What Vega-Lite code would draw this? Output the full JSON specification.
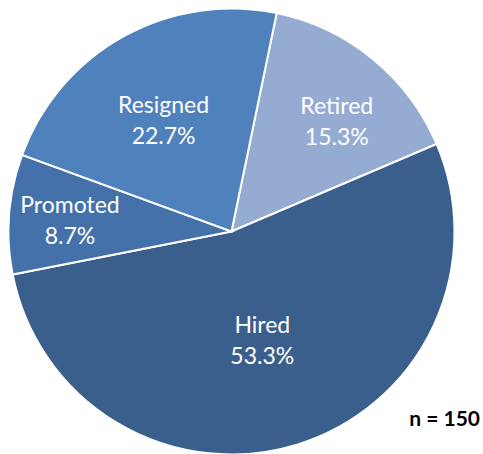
{
  "$schema": "https://vega.github.io/schema/vega-lite/v6.json",
  "autosize": "none",
  "width": 463,
  "height": 445,
  "padding": {"left": 0, "top": 9, "right": 20, "bottom": 0},
  "background": "white",
  "config": {"view": {"stroke": null}, "font": "Lato"},
  "layer": [
    {
      "data": {"name": "pie", "values": [
        {"idx": 1, "category": "Retired", "count": 23, "share": 0.153},
        {"idx": 2, "category": "Hired", "count": 80, "share": 0.533},
        {"idx": 3, "category": "Promoted", "count": 13, "share": 0.087},
        {"idx": 4, "category": "Resigned", "count": 34, "share": 0.227}
      ]},
      "layer": [
        {
          "mark": {"type": "arc", "outerRadius": 223, "stroke": "white", "strokeWidth": 2},
          "encoding": {
            "theta": {"field": "count", "type": "quantitative", "stack": true, "scale": {"range": [0.204, 6.4872]}},
            "order": {"field": "idx", "type": "quantitative"},
            "color": {"field": "category", "type": "nominal", "legend": null,
              "scale": {"domain": ["Retired", "Hired", "Promoted", "Resigned"], "range": ["#95abd2", "#3b5f8d", "#4571ab", "#4f81bd"]}}
          }
        },
        {
          "mark": {"type": "text", "fontSize": 23, "color": "white", "baseline": "middle", "align": "center", "dy": -13,
            "thetaOffset": {"expr": "datum.category === 'Retired' ? 0.073 : datum.category === 'Resigned' ? -0.037 : datum.category === 'Hired' ? 0.02 : 0"},
            "radius": {"expr": "datum.category === 'Retired' ? 153 : datum.category === 'Hired' ? 112 : datum.category === 'Promoted' ? 162 : 131"}},
          "encoding": {
            "theta": {"field": "count", "type": "quantitative", "stack": true, "scale": {"range": [0.204, 6.4872]}},
            "order": {"field": "idx", "type": "quantitative"},
            "text": {"field": "category", "type": "nominal"}
          }
        },
        {
          "mark": {"type": "text", "fontSize": 23, "color": "white", "baseline": "middle", "align": "center", "dy": 18,
            "thetaOffset": {"expr": "datum.category === 'Retired' ? 0.073 : datum.category === 'Resigned' ? -0.037 : datum.category === 'Hired' ? 0.02 : 0"},
            "radius": {"expr": "datum.category === 'Retired' ? 153 : datum.category === 'Hired' ? 112 : datum.category === 'Promoted' ? 162 : 131"}},
          "encoding": {
            "theta": {"field": "count", "type": "quantitative", "stack": true, "scale": {"range": [0.204, 6.4872]}},
            "order": {"field": "idx", "type": "quantitative"},
            "text": {"field": "share", "type": "quantitative", "format": ".1%"}
          }
        }
      ]
    },
    {
      "data": {"values": [{"note": "n = 150"}]},
      "mark": {"type": "text", "fontSize": 21, "fontWeight": "bold", "color": "black", "align": "right", "baseline": "middle",
        "x": {"expr": "width + 17"}, "y": {"expr": "height - 34"}},
      "encoding": {"text": {"field": "note", "type": "nominal"}}
    }
  ]
}
